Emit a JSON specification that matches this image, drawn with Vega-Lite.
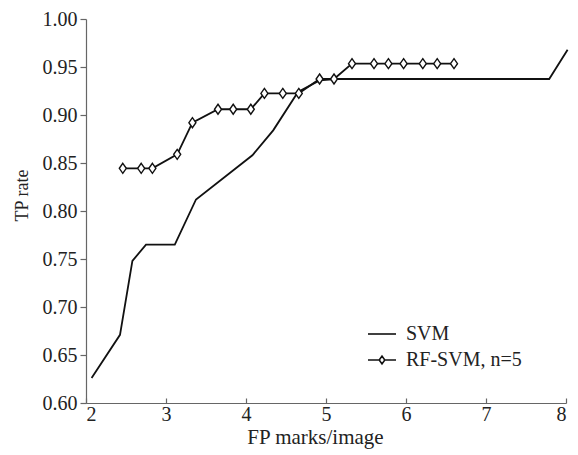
{
  "$schema": "https://vega.github.io/schema/vega-lite/v6.json",
  "width": 480,
  "height": 384,
  "autosize": "none",
  "padding": {"left": 86, "top": 19, "right": 12, "bottom": 52},
  "background": "white",
  "config": {
    "view": {"stroke": null},
    "font": "Liberation Serif",
    "axis": {
      "grid": false,
      "domainColor": "#666",
      "tickColor": "#666",
      "labelColor": "#222",
      "titleColor": "#222",
      "labelFont": "Liberation Serif",
      "titleFont": "Liberation Serif",
      "labelFontSize": 20,
      "titleFontSize": 19,
      "titleFontWeight": "normal",
      "domainWidth": 1.2,
      "tickWidth": 1.2
    },
    "legend": {
      "labelFont": "Liberation Serif",
      "labelFontSize": 20,
      "labelColor": "#222"
    }
  },
  "data": {
    "values": [
      {"series": "SVM", "x": 2.07, "y": 0.626},
      {"series": "SVM", "x": 2.425, "y": 0.671},
      {"series": "SVM", "x": 2.58, "y": 0.748},
      {"series": "SVM", "x": 2.75, "y": 0.765},
      {"series": "SVM", "x": 3.11, "y": 0.765},
      {"series": "SVM", "x": 3.375, "y": 0.812},
      {"series": "SVM", "x": 4.08, "y": 0.858},
      {"series": "SVM", "x": 4.34, "y": 0.884},
      {"series": "SVM", "x": 4.65, "y": 0.924},
      {"series": "SVM", "x": 4.92, "y": 0.936},
      {"series": "SVM", "x": 5.12, "y": 0.9375},
      {"series": "SVM", "x": 7.79, "y": 0.9375},
      {"series": "SVM", "x": 8.02, "y": 0.968},
      {"series": "RF-SVM, n=5", "x": 2.46, "y": 0.8445},
      {"series": "RF-SVM, n=5", "x": 2.69, "y": 0.8445},
      {"series": "RF-SVM, n=5", "x": 2.83, "y": 0.8445},
      {"series": "RF-SVM, n=5", "x": 3.14, "y": 0.859},
      {"series": "RF-SVM, n=5", "x": 3.33, "y": 0.892},
      {"series": "RF-SVM, n=5", "x": 3.65, "y": 0.906},
      {"series": "RF-SVM, n=5", "x": 3.84, "y": 0.906},
      {"series": "RF-SVM, n=5", "x": 4.06, "y": 0.906},
      {"series": "RF-SVM, n=5", "x": 4.23, "y": 0.9225},
      {"series": "RF-SVM, n=5", "x": 4.46, "y": 0.9225},
      {"series": "RF-SVM, n=5", "x": 4.66, "y": 0.9225},
      {"series": "RF-SVM, n=5", "x": 4.92, "y": 0.9375},
      {"series": "RF-SVM, n=5", "x": 5.1, "y": 0.9375},
      {"series": "RF-SVM, n=5", "x": 5.325, "y": 0.9535},
      {"series": "RF-SVM, n=5", "x": 5.6, "y": 0.9535},
      {"series": "RF-SVM, n=5", "x": 5.78, "y": 0.9535},
      {"series": "RF-SVM, n=5", "x": 5.97, "y": 0.9535},
      {"series": "RF-SVM, n=5", "x": 6.21, "y": 0.9535},
      {"series": "RF-SVM, n=5", "x": 6.39, "y": 0.9535},
      {"series": "RF-SVM, n=5", "x": 6.6, "y": 0.9535}
    ]
  },
  "encoding": {
    "x": {
      "field": "x",
      "type": "quantitative",
      "scale": {"domain": [2, 8], "nice": false, "zero": false},
      "axis": {
        "title": "FP marks/image",
        "titleFontSize": 21,
        "titleX": 229,
        "values": [2, 3, 4, 5, 6, 7, 8],
        "tickSize": -5,
        "labelPadding": 6,
        "titlePadding": 2
      }
    },
    "y": {
      "field": "y",
      "type": "quantitative",
      "scale": {"domain": [0.6, 1.0], "nice": false, "zero": false},
      "axis": {
        "title": "TP rate",
        "titleFontSize": 18,
        "titleX": -55,
        "titleY": 176,
        "values": [0.6, 0.65, 0.7, 0.75, 0.8, 0.85, 0.9, 0.95, 1.0],
        "format": ".2f",
        "tickSize": 6,
        "labelPadding": 3
      }
    }
  },
  "layer": [
    {
      "mark": {"type": "line", "color": "#111", "strokeWidth": 1.8, "clip": false},
      "encoding": {"detail": {"field": "series"}}
    },
    {
      "transform": [{"filter": "datum.series !== 'SVM'"}],
      "mark": {
        "type": "point",
        "shape": "M0,-1L0.7,0L0,1L-0.7,0Z",
        "size": 100,
        "filled": true,
        "fill": "white",
        "stroke": "#111",
        "strokeWidth": 1.4,
        "opacity": 1
      }
    },
    {
      "mark": {"type": "point", "filled": false, "opacity": 0, "size": 784},
      "encoding": {
        "shape": {
          "field": "series",
          "type": "nominal",
          "scale": {
            "domain": ["SVM", "RF-SVM, n=5"],
            "range": ["M-1,0H1", "M-1,0H-0.2M-0.2,0L0,-0.28L0.2,0L0,0.28ZM0.2,0H1"]
          },
          "legend": {
            "title": null,
            "orient": "none",
            "legendX": 281,
            "legendY": 300,
            "symbolOpacity": 1,
            "symbolStrokeColor": "#111",
            "symbolFillColor": "white",
            "symbolStrokeWidth": 1.6,
            "symbolSize": 784,
            "labelOffset": 9,
            "rowPadding": 1
          }
        }
      }
    }
  ]
}
